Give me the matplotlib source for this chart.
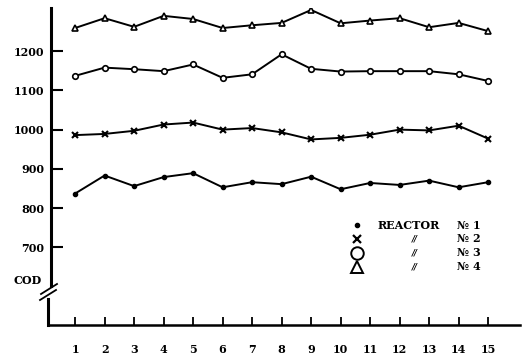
import matplotlib
matplotlib.use("Agg")
import matplotlib.pyplot as plt
from matplotlib.lines import Line2D

days = list(range(1, 16))
reactor1 = [837, 883, 856, 879, 889, 853, 866, 861, 880, 848, 864, 859, 870, 853, 866]
reactor2 = [986, 989, 997, 1013, 1018, 1000, 1004, 993, 975, 979, 987, 1000, 998, 1010, 977]
reactor3 = [1137, 1158, 1154, 1149, 1166, 1132, 1141, 1192, 1155, 1148, 1149, 1149, 1149, 1141, 1124]
reactor4 = [1259, 1284, 1262, 1290, 1282, 1259, 1266, 1272, 1305, 1271, 1278, 1284, 1261, 1272, 1251]
yticks = [700, 800, 900, 1000, 1100, 1200]
legend_names = ["REACTOR", "//", "//", "//"]
legend_nums = ["\u2116 1", "\u2116 2", "\u2116 3", "\u2116 4"]

W, H = 522, 355
fig = plt.figure(figsize=(W / 100, H / 100), dpi=100)
ax = fig.add_axes([50 / W, (H - 325) / H, (520 - 50) / W, (325 - 8) / H])

FONT = "DejaVu Serif"
kw = dict(color="black", lw=1.4)
ax.plot(days, reactor1, marker="o", ms=3, mfc="black", mec="black", **kw)
ax.plot(days, reactor2, marker="x", ms=4.5, mew=1.5, **kw)
ax.plot(days, reactor3, marker="o", ms=4, mfc="white", mec="black", mew=1.2, **kw)
ax.plot(days, reactor4, marker="^", ms=4.5, mfc="white", mec="black", mew=1.2, **kw)

ax.set_xlim(0.15, 16.08)
ax.set_ylim(502, 1310)

ax.set_xticks(days)
ax.set_xticklabels([str(d) for d in days], fontfamily=FONT, fontsize=8, fontweight="bold")
ax.set_yticks(yticks)
ax.set_yticklabels([str(v) for v in yticks], fontfamily=FONT, fontsize=8, fontweight="bold")
ax.tick_params(axis="x", direction="in", length=6, width=1.3, pad=14)
ax.tick_params(axis="y", direction="in", length=9, width=1.5, pad=4)

for s in ["top", "right", "left"]:
    ax.spines[s].set_visible(False)
ax.spines["bottom"].set_linewidth(1.8)

def fx(px):
    return px / W

def fy(py):
    return 1 - py / H

# left axis with break
fig.add_artist(Line2D([fx(51), fx(51)], [fy(8), fy(286)], color="black", lw=2.2))
fig.add_artist(Line2D([fx(48), fx(48)], [fy(299), fy(325)], color="black", lw=2.2))
fig.add_artist(Line2D([fx(41), fx(57)], [fy(294), fy(284)], color="black", lw=1.3))
fig.add_artist(Line2D([fx(40), fx(56)], [fy(300), fy(290)], color="black", lw=1.3))

fig.text(fx(28), fy(280), "COD", fontfamily=FONT, fontsize=8, fontweight="bold",
         ha="center", va="center")

# legend
rows = [225, 239, 253, 267]
mk = [dict(marker="o", ms=3, mfc="black", mec="black"),
      dict(marker="x", ms=6, mew=1.6, mec="black"),
      dict(marker="o", ms=9, mfc="white", mec="black", mew=1.4),
      dict(marker="^", ms=9, mfc="white", mec="black", mew=1.4)]
for r, m, nm, num in zip(rows, mk, legend_names, legend_nums):
    fig.add_artist(Line2D([fx(357)], [fy(r)], ls="none", **m))
    if nm == "REACTOR":
        fig.text(fx(378), fy(r), nm, fontfamily=FONT, fontsize=8, fontweight="bold",
                 ha="left", va="center")
    else:
        fig.text(fx(415), fy(r), nm, fontfamily="DejaVu Sans", fontsize=6, fontstyle="italic",
                 fontweight="bold", ha="center", va="center")
    fig.text(fx(457), fy(r), num, fontfamily=FONT, fontsize=8, fontweight="bold",
             ha="left", va="center")

fig.savefig("out.png", dpi=100)
